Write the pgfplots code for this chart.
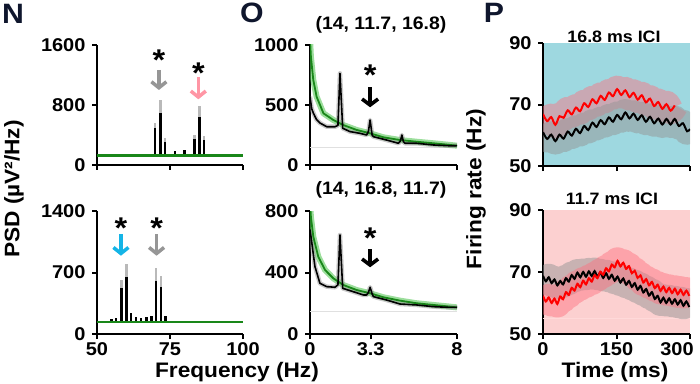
\documentclass[border=0pt]{standalone}
\usepackage{fontspec}
\setmainfont{Liberation Sans}[FakeStretch=1.08]
\usepackage{pgfplots}
\usepackage{pgfplotstable}
\pgfplotsset{compat=1.18}
\usetikzlibrary{arrows.meta}
\definecolor{cyanbg}{RGB}{158,216,224}
\definecolor{pinkbg}{RGB}{252,208,208}
\definecolor{pinkband}{RGB}{255,110,125}
\definecolor{grayband}{RGB}{150,150,150}
\definecolor{dgreen}{RGB}{25,135,25}
\definecolor{lgreen}{RGB}{90,200,90}
\definecolor{arrgray}{RGB}{150,150,150}
\definecolor{arrpink}{RGB}{255,150,165}
\definecolor{arrcyan}{RGB}{20,180,230}
\definecolor{navy}{RGB}{15,22,45}
\newcommand\tl{\fontsize{18.5}{20}\selectfont\bfseries}
\newcommand\al{\fontsize{21}{23}\selectfont\bfseries}
\newcommand\pl{\fontsize{28}{30}\selectfont\bfseries}
\newcommand\ttl{\fontsize{18}{20}\selectfont\bfseries}
\newcommand\ptl{\fontsize{16.5}{18}\selectfont\bfseries}
\newcommand\astf{\fontsize{30}{30}\selectfont\bfseries}
\pgfplotsset{
  panel/.style={scale only axis, anchor=south west,
    axis x line*=bottom, axis y line*=left,
    axis line style={line width=2.4pt,-},
    tick style={line width=2pt,black}, major tick length=5pt, tick align=outside,
    ticklabel style={font=\tl},
    yticklabel style={xshift=-3pt},
    /pgf/number format/assume math mode=true,
    /pgf/number format/1000 sep={},
    enlargelimits=false, clip=true},
  spk/.style={line width=2.6pt, unbounded coords=jump},
}
% ---------- N data: (x, y) vertical spikes ----------
\pgfplotstableread{
x y
67.0 125
67.0 150
nan nan
69.9 125
69.9 560
nan nan
71.8 125
71.8 860
nan nan
73.3 125
73.3 360
nan nan
83.3 125
83.3 400
nan nan
85.0 125
85.0 785
nan nan
86.7 125
86.7 385
}\NtopGray
\pgfplotstableread{
x y
67.0 125
67.0 150
nan nan
69.9 125
69.9 490
nan nan
71.8 125
71.8 689
nan nan
73.3 125
73.3 310
nan nan
76.7 125
76.7 185
nan nan
79.9 125
79.9 195
nan nan
83.3 125
83.3 345
nan nan
85.0 125
85.0 644
nan nan
86.7 125
86.7 333
nan nan
89.7 125
89.7 147
}\NtopBlack
\pgfplotstableread{
x y
58.4 135
58.4 614
nan nan
60.2 135
60.2 797
nan nan
70.2 135
70.2 747
nan nan
71.9 135
71.9 660
}\NbotGray
\pgfplotstableread{
x y
55.0 135
55.0 170
nan nan
56.5 135
56.5 178
nan nan
58.4 135
58.4 527
nan nan
60.2 135
60.2 652
nan nan
61.6 135
61.6 238
nan nan
63.4 135
63.4 197
nan nan
65.1 135
65.1 178
nan nan
67.0 135
67.0 197
nan nan
68.7 135
68.7 205
nan nan
70.2 135
70.2 607
nan nan
71.9 135
71.9 539
nan nan
73.5 135
73.5 205
}\NbotBlack
% ---------- O data ----------
\pgfplotstableread{
x y
0 570
0.09 470
0.18 433
0.35 380
0.54 350
0.91 319
1.36 319
1.52 330
1.63 764
1.78 306
2.18 278
2.72 264
3.08 250
3.18 280
3.27 375
3.38 250
3.45 236
4.17 208
4.81 181
4.92 200
5.0 250
5.08 195
5.17 181
5.8 181
6.71 167
7.62 160
8.0 161
}\OtopBlack
\pgfplotstableread{
x y
0 1050
0.05 900
0.18 708
0.36 569
0.73 431
1.27 375
1.81 333
2.54 292
3.27 264
3.99 231
4.9 208
5.8 194
6.71 181
7.62 167
8.0 161
}\OtopGreen
\pgfplotstableread{
x y
0 680
0.09 600
0.27 438
0.54 330
0.91 308
1.36 304
1.52 320
1.63 644
1.78 297
2.36 275
2.9 254
3.08 254
3.18 270
3.27 304
3.38 262
3.45 243
4.17 221
4.9 195
5.8 189
6.71 178
7.62 173
8.0 173
}\ObotBlack
\pgfplotstableread{
x y
0 860
0.05 760
0.18 633
0.45 503
0.82 416
1.27 362
1.81 319
2.54 286
3.27 265
3.99 239
4.9 217
5.8 200
6.71 189
7.62 178
8.0 173
}\ObotGreen
% ---------- P data ----------
\pgfplotstableread{
t v
0 66.9
8.4 64.6
16.8 65.9
25.2 63.4
33.6 66.2
42 65.7
50.4 68.1
58.8 66.8
67.2 69.0
75.6 67.8
84 70.4
92.4 69.2
100.8 71.7
109.2 70.4
117.6 72.8
126 71.5
134.4 73.9
142.8 72.7
151.2 75.0
159.6 73.1
168 74.6
176.4 72.4
184.8 73.8
193.2 71.6
201.6 73.0
210 70.7
218.4 71.9
226.8 69.5
235.2 70.8
243.6 68.6
252 70.1
260.4 68.0
268.8 69.7
}\PtopRed
\pgfplotstableread{
t v
0 61.0
8.4 58.8
16.8 60.2
25.2 58.1
33.6 60.2
42 58.9
50.4 61.2
58.8 59.9
67.2 62.1
75.6 60.7
84 63.0
92.4 61.7
100.8 64.1
109.2 62.7
117.6 64.9
126 63.6
134.4 65.8
142.8 64.4
151.2 66.6
159.6 65.2
168 67.4
176.4 65.5
184.8 67.0
193.2 65.0
201.6 66.5
210 64.4
218.4 66.0
226.8 63.9
235.2 65.4
243.6 63.5
252 65.3
260.4 63.5
268.8 65.3
277.2 63.0
285.6 63.9
294 61.3
300 62.0
}\PtopBlack
\pgfplotstableread{
t v
0 68.8
5.85 67.0
11.7 68.3
17.55 66.4
23.4 67.6
29.25 65.7
35.1 67.1
40.95 66.0
46.8 68.0
52.65 66.9
58.5 69.0
64.35 67.8
70.2 69.8
76.05 68.3
81.9 70.0
87.75 68.5
93.6 70.2
99.45 68.7
105.3 70.3
111.15 68.5
117 69.9
122.85 68.1
128.7 69.6
134.55 67.8
140.4 69.1
146.25 67.2
152.1 68.5
157.95 66.6
163.8 67.9
169.65 65.9
175.5 67.1
181.35 65.2
187.2 66.4
193.05 64.3
198.9 65.5
204.75 63.4
210.6 64.5
216.45 62.4
222.3 63.5
228.15 61.3
234 62.3
239.85 60.2
245.7 61.7
251.55 60.0
257.4 61.5
263.25 59.8
269.1 61.2
274.95 59.5
280.8 60.9
286.65 59.1
292.5 60.5
298.35 58.7
}\PbotBlack
\pgfplotstableread{
t v
0 62.3
5.85 60.5
11.7 61.8
17.55 60.0
23.4 61.4
29.25 59.7
35.1 62.1
40.95 61.2
46.8 63.5
52.65 62.6
58.5 64.9
64.35 64.0
70.2 66.2
76.05 65.1
81.9 67.2
87.75 66.0
93.6 68.0
99.45 66.9
105.3 69.0
111.15 68.0
117 70.1
122.85 69.1
128.7 71.2
134.55 70.2
140.4 72.4
146.25 71.5
152.1 73.6
157.95 71.8
163.8 73.0
169.65 71.0
175.5 71.9
181.35 69.6
187.2 70.4
193.05 68.1
198.9 68.9
204.75 66.6
210.6 67.7
216.45 65.7
222.3 66.8
228.15 64.8
234 65.9
239.85 63.9
245.7 65.3
251.55 63.5
257.4 64.9
263.25 63.2
269.1 64.6
274.95 62.8
280.8 64.3
286.65 62.6
292.5 64.0
298.35 62.3
}\PbotRed
\begin{document}
\begin{tikzpicture}[x=1pt,y=1pt]
\useasboundingbox (0,0) rectangle (700,383);
% ===== N top =====
\begin{axis}[panel, at={(97pt,218pt)}, width=146pt, height=120pt,
  xmin=50, xmax=100, ymin=0, ymax=1600, xtick={50,75,100}, xticklabels={}, ytick={0,800,1600}]
\addplot[spk, gray!55] table {\NtopGray};
\addplot[spk, black] table {\NtopBlack};
\addplot[dgreen, line width=2.5pt] coordinates {(50,125) (100,125)};
\draw[line width=3.5pt, arrgray, -{Straight Barb[length=6pt,width=15pt]}] (axis cs:71.2,1267) -- (axis cs:71.2,1000);
\draw[line width=3.5pt, arrpink, -{Straight Barb[length=6pt,width=15pt]}] (axis cs:84.7,1169) -- (axis cs:84.7,876);
\node[font=\astf, anchor=north, inner sep=0pt] at (axis cs:71.2,1533) {*};
\node[font=\astf, anchor=north, inner sep=0pt] at (axis cs:84.7,1360) {*};
\end{axis}
% ===== N bottom =====
\begin{axis}[panel, at={(97pt,49pt)}, width=146pt, height=123pt,
  xmin=50, xmax=100, ymin=0, ymax=1400, xtick={50,75,100}, ytick={0,700,1400}]
\addplot[spk, gray!55] table {\NbotGray};
\addplot[spk, black] table {\NbotBlack};
\addplot[dgreen, line width=2.5pt] coordinates {(50,135) (100,135)};
\draw[line width=3.5pt, arrcyan, -{Straight Barb[length=6pt,width=15pt]}] (axis cs:58.2,1138) -- (axis cs:58.2,891);
\draw[line width=3.5pt, arrgray, -{Straight Barb[length=6pt,width=15pt]}] (axis cs:70.4,1138) -- (axis cs:70.4,891);
\node[font=\astf, anchor=north, inner sep=0pt] at (axis cs:58.2,1320) {*};
\node[font=\astf, anchor=north, inner sep=0pt] at (axis cs:70.4,1320) {*};
\end{axis}
% ===== O top =====
\begin{axis}[panel, at={(310pt,218pt)}, width=147pt, height=120pt,
  xmin=0, xmax=8, ymin=0, ymax=1000, xtick={0,3.3,8}, xticklabels={}, ytick={0,500,1000}]
\addplot[black!12, line width=0.7pt] coordinates {(0,150) (8,150)};
\addplot[lgreen, opacity=0.6, line width=6pt, line join=round] table {\OtopGreen};
\addplot[grayband, opacity=0.5, line width=4.5pt, line join=round] table {\OtopBlack};
\addplot[dgreen, line width=1.8pt, line join=round] table {\OtopGreen};
\addplot[black, line width=1.6pt, line join=round] table {\OtopBlack};
\draw[line width=3.6pt, black, -{Straight Barb[length=6pt,width=16pt]}] (axis cs:3.27,647) -- (axis cs:3.27,481);
\node[font=\astf, anchor=north, inner sep=0pt] at (axis cs:3.27,833) {*};
\end{axis}
% ===== O bottom =====
\begin{axis}[panel, at={(310pt,49pt)}, width=147pt, height=123pt,
  xmin=0, xmax=8, ymin=0, ymax=800, xtick={0,3.3,8}, xticklabels={0,3.3,8}, ytick={0,400,800}]
\addplot[black!12, line width=0.7pt] coordinates {(0,150) (8,150)};
\addplot[lgreen, opacity=0.6, line width=6pt, line join=round] table {\ObotGreen};
\addplot[grayband, opacity=0.5, line width=4.5pt, line join=round] table {\ObotBlack};
\addplot[dgreen, line width=1.8pt, line join=round] table {\ObotGreen};
\addplot[black, line width=1.6pt, line join=round] table {\ObotBlack};
\draw[line width=3.6pt, black, -{Straight Barb[length=6pt,width=16pt]}] (axis cs:3.27,551) -- (axis cs:3.27,434);
\node[font=\astf, anchor=north, inner sep=0pt] at (axis cs:3.27,689) {*};
\end{axis}
% ===== P top =====
\begin{axis}[panel, at={(543pt,217pt)}, width=147pt, height=123pt,
  xmin=0, xmax=300, ymin=50, ymax=90, xtick={0,150,300}, xticklabels={}, ytick={50,70,90},
  axis background/.style={fill=cyanbg}]
\addplot[pinkband, opacity=0.45, line width=27pt, line join=round, smooth] table {\PtopRed};
\addplot[grayband, opacity=0.5, line width=27pt, line join=round, smooth] table {\PtopBlack};
\addplot[black, line width=2pt, smooth] table {\PtopBlack};
\addplot[red, line width=2pt, smooth] table {\PtopRed};
\end{axis}
% ===== P bottom =====
\begin{axis}[panel, at={(543pt,49pt)}, width=147pt, height=124pt,
  xmin=0, xmax=300, ymin=50, ymax=90, xtick={0,150,300}, xticklabels={0,150,{300\kern26pt}}, ytick={50,70,90},
  axis background/.style={fill=pinkbg}]
\addplot[white!85!red, line width=0.7pt] coordinates {(0,55.2) (300,55.2)};
\addplot[grayband, opacity=0.5, line width=27pt, line join=round, smooth] table {\PbotBlack};
\addplot[pinkband, opacity=0.45, line width=27pt, line join=round, smooth] table {\PbotRed};
\addplot[black, line width=2pt, smooth] table {\PbotBlack};
\addplot[red, line width=2pt, smooth] table {\PbotRed};
\end{axis}
% ===== texts =====
\node[font=\pl, text=navy] at (13,369) {N};
\node[font=\pl, text=navy] at (252,370) {O};
\node[font=\pl, text=navy] at (494,370) {P};
\node[font=\ttl] at (381,358) {(14, 11.7, 16.8)};
\node[font=\ttl] at (381,193) {(14, 16.8, 11.7)};
\node[font=\ptl] at (614,346) {16.8 ms ICI};
\node[font=\ptl] at (612,184) {11.7 ms ICI};
\node[font=\al, rotate=90] at (14,194) {PSD (µV²/Hz)};
\node[font=\al, rotate=90] at (476,194) {Firing rate (Hz)};
\node[font=\al] at (237,11) {Frequency (Hz)};
\node[font=\al] at (615,11) {Time (ms)};
\end{tikzpicture}
\end{document}
